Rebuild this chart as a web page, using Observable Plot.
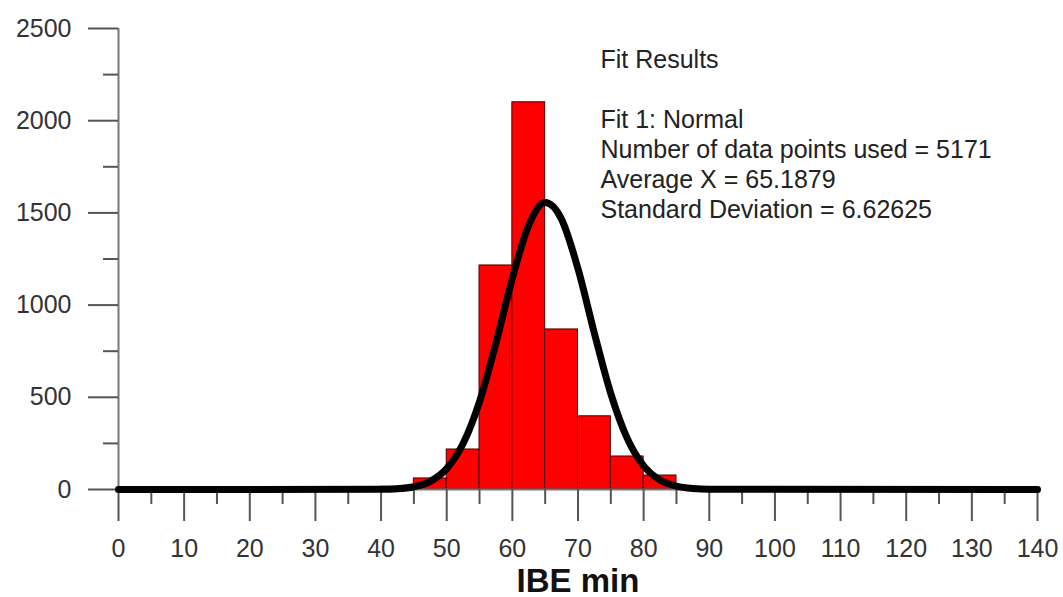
<!DOCTYPE html>
<html><head><meta charset="utf-8">
<script src="https://cdn.jsdelivr.net/npm/d3@7"></script>
<script src="https://cdn.jsdelivr.net/npm/@observablehq/plot@0.6"></script>
<style>html,body{margin:0;padding:0;background:#fff;}</style>
</head><body><div id="chart"></div>
<script>
// Histogram bins (IBE min) and counts
const binStart = [35, 40, 45, 50, 55, 60, 65, 70, 75, 80, 85];
const binEnd   = [40, 45, 50, 55, 60, 65, 70, 75, 80, 85, 90];
const counts   = [8, 15, 60, 217, 1215, 2100, 868, 397, 179, 76, 8];

// Fitted normal curve
const fitX = [0, 40, 42.5, 45, 47.5, 50, 52.5, 55, 57.5, 60, 62.5, 65, 67.5, 70, 72.5, 75, 77.5, 80, 82.5, 85, 87.5, 90, 140];
const fitY = [0, 1, 4, 15, 44, 113, 249, 477, 794, 1146, 1434, 1556, 1465, 1197, 847, 520, 277, 128, 51, 18, 5, 1, 0];

// Axis ticks
const xTicks = [0, 10, 20, 30, 40, 50, 60, 70, 80, 90, 100, 110, 120, 130, 140];
const xMinorTicks = [5, 15, 25, 35, 45, 55, 65, 75, 85, 95, 105, 115, 125, 135];
const yTicks = [0, 500, 1000, 1500, 2000, 2500];
const yMinorTicks = [250, 750, 1250, 1750, 2250];

const xLabel = "IBE min";
const fitLines = [
  "Fit Results",
  "",
  "Fit 1: Normal",
  "Number of data points used = 5171",
  "Average X = 65.1879",
  "Standard Deviation = 6.62625"
];

const bars = binStart.map((s, i) => ({x1: s, x2: binEnd[i], count: counts[i]}));
const fit = fitX.map((x, i) => ({x, y: fitY[i]}));

const font = "'Liberation Sans', Arial, Helvetica, sans-serif";
const tickColor = "#555";

const chart = Plot.plot({
  width: 1063,
  height: 597,
  marginLeft: 118,
  marginRight: 26,
  marginTop: 28,
  marginBottom: 108,
  x: {domain: [0, 140]},
  y: {domain: [0, 2500]},
  style: {fontFamily: font, background: "#fff", color: "#333", overflow: "visible"},
  marks: [
    Plot.rect(bars, {x1: "x1", x2: "x2", y1: () => 0, y2: "count", fill: "#ff0000", stroke: "#4a0000", strokeWidth: 1}),
    Plot.ruleX([0], {y1: 0, y2: 2500, stroke: "#777", strokeWidth: 2}),
    Plot.ruleY([0], {stroke: "#777", strokeWidth: 2}),
    Plot.axisY(yTicks, {tickSize: 30, tickPadding: 17, fontSize: 25, stroke: tickColor, strokeWidth: 2, fill: "#333", tickFormat: "d", label: null}),
    Plot.axisY(yMinorTicks, {tickSize: 15, text: null, stroke: tickColor, strokeWidth: 2, label: null}),
    Plot.axisX(xTicks, {tickSize: 32, tickPadding: 18, fontSize: 25, stroke: tickColor, strokeWidth: 2, fill: "#333", tickFormat: "d", label: null}),
    Plot.axisX(xMinorTicks, {tickSize: 15, text: null, stroke: tickColor, strokeWidth: 2, label: null}),
    Plot.line(fit, {x: "x", y: "y", stroke: "#000", strokeWidth: 7, curve: "monotone-x", strokeLinecap: "round", strokeLinejoin: "round"}),
    Plot.text([fitLines.join("\n")], {frameAnchor: "top-left", dx: 482, dy: 18, lineAnchor: "top", textAnchor: "start", fontSize: 25, lineHeight: 1.2, fill: "#222"}),
    Plot.text([xLabel], {frameAnchor: "bottom", dy: 92, lineAnchor: "middle", fontSize: 33, fontWeight: "bold", fill: "#111"})
  ]
});
document.getElementById("chart").appendChild(chart);
</script>
</body></html>
